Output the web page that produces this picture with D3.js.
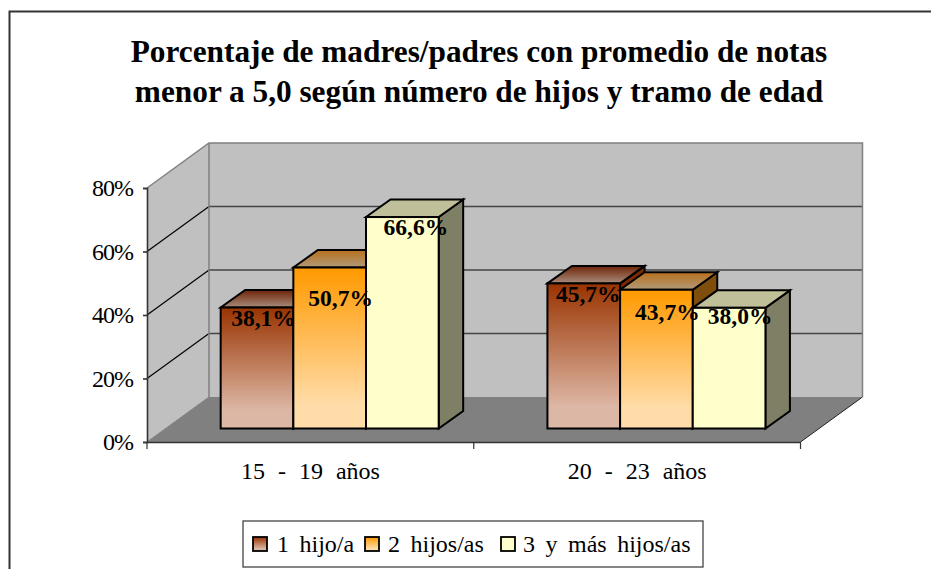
<!DOCTYPE html>
<html><head><meta charset="utf-8">
<script src="https://cdn.jsdelivr.net/npm/d3@7"></script>
<style>html,body{margin:0;padding:0;background:#fff}svg{display:block}text{font-family:"Liberation Serif",serif;fill:#000}</style>
</head><body><div id="c"></div>
<script>
const categories = ["15 - 19 años", "20 - 23 años"];
const seriesNames = ["1 hijo/a", "2 hijos/as", "3 y más hijos/as"];
const hijo1 = [38.1, 45.7];
const hijos2 = [50.7, 43.7];
const hijos3 = [66.6, 38.0];
const seriesValues = [hijo1, hijos2, hijos3];
const yTicks = [0, 20, 40, 60, 80];
const titleLines = ["Porcentaje de madres/padres con promedio de notas", "menor a 5,0 según número de hijos y tramo de edad"];

const W = 931, H = 569;
const svg = d3.select("#c").append("svg").attr("width", W).attr("height", H);
const defs = svg.append("defs");

// Geometry of the 3D box
const x0 = 147, x1 = 800.5, yBase = 442, yTop = 188, depthX = 62, depthY = 45;
const barDepthX = 24.5, barDepthY = 17.5, barShiftX = 19.3, barShiftY = 13.5;
const y = d3.scaleLinear().domain([0, 80]).range([yBase, yTop]);
const xCat = d3.scaleBand().domain(categories).range([x0, x1]);
const groupWidth = 218;
const xSer = d3.scaleBand().domain(d3.range(3)).range([0, groupWidth]);

const fills = [
  {stops: [["0%", "#993300"], ["85%", "#ddb7a5"], ["100%", "#ddb7a5"]],
   top: [["0%", "#6e2408"], ["100%", "#a88c7c"]], side: "#7a2900"},
  {stops: [["0%", "#ff9900"], ["85%", "#ffdca8"], ["100%", "#ffdca8"]],
   top: [["0%", "#b8701c"], ["100%", "#b09a7a"]], side: "#7f4d0c"},
  {stops: [["0%", "#ffffcc"], ["100%", "#ffffcc"]],
   top: [["0%", "#bfbf99"], ["100%", "#bfbf99"]], side: "#7f7f66"}
];
function grad(id, stops) {
  const g = defs.append("linearGradient").attr("id", id).attr("x1", 0).attr("y1", 0).attr("x2", 0).attr("y2", 1);
  stops.forEach(s => g.append("stop").attr("offset", s[0]).attr("stop-color", s[1]));
}
fills.forEach((f, i) => { grad("front" + i, f.stops); grad("top" + i, f.top); });

// Frame: only the top and left edges fall inside the picture
svg.append("polyline").attr("points", "9.5,569 9.5,11.5 931,11.5")
  .attr("fill", "none").attr("stroke", "#333").attr("stroke-width", 2);

// Title
svg.append("g").selectAll("text").data(titleLines).join("text")
  .attr("x", 479).attr("y", (d, i) => 62 + i * 40)
  .attr("text-anchor", "middle").attr("font-size", 31.3).attr("font-weight", "bold")
  .text(d => d);

const pts = a => a.map(p => p.join(",")).join(" ");
// Walls and floor
svg.append("polygon").attr("points", pts([[x0, yTop], [x0 + depthX, yTop - depthY], [x0 + depthX, yBase - depthY], [x0, yBase]]))
  .attr("fill", "#c0c0c0");
svg.append("polygon").attr("points", pts([[x0 + depthX, yTop - depthY], [x1 + depthX, yTop - depthY], [x1 + depthX, yBase - depthY], [x0 + depthX, yBase - depthY]]))
  .attr("fill", "#c0c0c0");
svg.append("polygon").attr("points", pts([[x0, yBase], [x0 + depthX, yBase - depthY], [x1 + depthX, yBase - depthY], [x1, yBase]]))
  .attr("fill", "#808080");

// Gridlines
const grid = svg.append("g");
yTicks.filter(t => t > 0 && t < 80).forEach(t => {
  grid.append("line").attr("x1", x0 + depthX).attr("x2", x1 + depthX).attr("y1", y(t) - depthY).attr("y2", y(t) - depthY)
    .attr("stroke", "#444").attr("stroke-width", 1.4);
  grid.append("line").attr("x1", x0).attr("x2", x0 + depthX).attr("y1", y(t)).attr("y2", y(t) - depthY)
    .attr("stroke", "#000").attr("stroke-width", 1.2);
});
// Wall edges
svg.append("polyline").attr("points", pts([[x0, yTop], [x0 + depthX, yTop - depthY], [x1 + depthX, yTop - depthY], [x1 + depthX, yBase - depthY]]))
  .attr("fill", "none").attr("stroke", "#808080").attr("stroke-width", 1.5);
svg.append("line").attr("x1", x0 + depthX).attr("x2", x0 + depthX).attr("y1", yTop - depthY).attr("y2", yBase - depthY)
  .attr("stroke", "#808080").attr("stroke-width", 1.5);
svg.append("line").attr("x1", x0).attr("x2", x0 + depthX).attr("y1", yBase).attr("y2", yBase - depthY)
  .attr("stroke", "#808080");
svg.append("line").attr("x1", x1).attr("x2", x1 + depthX).attr("y1", yBase).attr("y2", yBase - depthY)
  .attr("stroke", "#222");

// Bars
const bars = svg.append("g").attr("stroke", "#000").attr("stroke-width", 2).attr("stroke-linejoin", "miter");
categories.forEach((c, ci) => {
  const gx = xCat(c) + xCat.bandwidth() / 2 + barShiftX - groupWidth / 2;
  seriesValues.forEach((vals, si) => {
    const l = gx + xSer(si), r = l + xSer.bandwidth(), t = y(vals[ci]) - barShiftY, b = yBase - barShiftY;
    bars.append("polygon").attr("points", pts([[r, t], [r + barDepthX, t - barDepthY], [r + barDepthX, b - barDepthY], [r, b]]))
      .attr("fill", fills[si].side);
    bars.append("polygon").attr("points", pts([[l, t], [l + barDepthX, t - barDepthY], [r + barDepthX, t - barDepthY], [r, t]]))
      .attr("fill", `url(#top${si})`);
    bars.append("rect").attr("x", l).attr("y", t).attr("width", r - l).attr("height", b - t)
      .attr("fill", `url(#front${si})`);
  });
});

// Axes
const axL = svg.append("g").attr("transform", `translate(${x0},0)`)
  .call(d3.axisLeft(y).tickValues(yTicks).tickSize(4).tickPadding(10).tickFormat(d => d + "%"));
const axB = svg.append("g").attr("transform", `translate(0,${yBase})`)
  .call(d3.axisBottom(xCat).tickSize(0).tickPadding(20));
axL.selectAll("text").attr("font-size", 24).attr("letter-spacing", -1);
axB.selectAll("text").attr("font-size", 24).attr("word-spacing", 7);
[axL, axB].forEach(a => { a.selectAll("text").attr("font-family", '"Liberation Serif",serif').attr("fill", "#000");
  a.selectAll(".domain,line").attr("stroke", "#333").attr("stroke-width", 1.6); });
const tickG = svg.append("g").attr("stroke", "#333").attr("stroke-width", 1.2);
[x0, (x0 + x1) / 2, x1].forEach(v => tickG.append("line").attr("x1", v).attr("x2", v).attr("y1", yBase).attr("y2", yBase + 7));

// Data labels (horizontal and vertical nudges from the bar's top centre)
const labelDx = [[6.5, 11, 13.5], [4.5, 11, 11]];
const labelDy = [[18, 38, 18], [18.5, 30, 16]];
const labels = svg.append("g").attr("font-size", 23.5).attr("font-weight", "bold").attr("text-anchor", "middle");
categories.forEach((c, ci) => {
  const gx = xCat(c) + xCat.bandwidth() / 2 + barShiftX - groupWidth / 2;
  seriesValues.forEach((vals, si) => {
    labels.append("text")
      .attr("x", gx + xSer(si) + xSer.bandwidth() / 2 + labelDx[ci][si])
      .attr("y", y(vals[ci]) - barShiftY + labelDy[ci][si])
      .text(vals[ci].toFixed(1).replace(".", ",") + "%");
  });
});

// Legend
const lg = svg.append("g");
lg.append("rect").attr("x", 243).attr("y", 521).attr("width", 460).attr("height", 46)
  .attr("fill", "#fff").attr("stroke", "#444").attr("stroke-width", 1.3);
const swX = [253, 365, 501], txtX = [277, 388, 523];
seriesNames.forEach((n, i) => {
  lg.append("rect").attr("x", swX[i]).attr("y", 537).attr("width", 14).attr("height", 14)
    .attr("fill", `url(#front${i})`).attr("stroke", "#000").attr("stroke-width", 1.8);
  lg.append("text").attr("x", txtX[i]).attr("y", 552).attr("font-size", 24)
    .attr("word-spacing", 4.5).text(n);
});
</script></body></html>
